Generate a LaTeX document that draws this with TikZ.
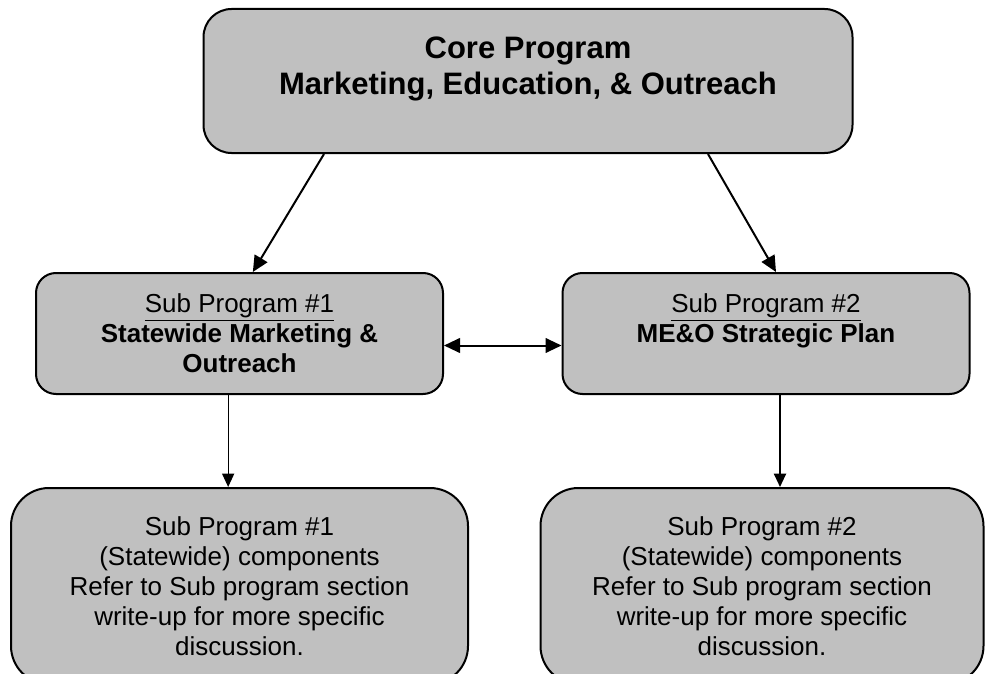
\documentclass[tikz,border=0pt]{standalone}
\usepackage{fontspec}
\setmainfont{Liberation Sans}
\usetikzlibrary{arrows.meta, positioning}
\definecolor{boxgray}{HTML}{C0C0C0}

\begin{document}
\begin{tikzpicture}[x=0.75pt, y=-0.75pt,
        box/.style={draw=black, line width=1.5pt, fill=boxgray, align=center, inner sep=0pt},
        core box/.style={box, rounded corners=21pt, minimum width=486.75pt, minimum height=108pt, font=\fontsize{23.25}{27}\selectfont\bfseries},
        sub box/.style={box, rounded corners=15pt, minimum width=305.25pt, minimum height=90.75pt, font=\fontsize{19.5}{22.5}\selectfont},
        detail box/.style={box, rounded corners=28.5pt, minimum height=147pt, font=\fontsize{19.5}{22.5}\selectfont},
        arrow/.style={-{Triangle[length=12pt, width=11pt]}, line width=1.5pt},
        thin arrow/.style={-{Triangle[length=10pt, width=9pt]}, line width=1pt}
    ]
        \useasboundingbox (0,0) rectangle (986,674);
        \clip (0,0) rectangle (986,674);

        \node[core box] (core) at (528,81) {Core Program\\Marketing, Education, \& Outreach\\[-4.5pt]};
        \node[sub box] (sub1) at (239.5,333.5) {\underline{Sub Program \#1}\\\textbf{Statewide Marketing \&}\\\textbf{Outreach}};
        \node[sub box] (sub2) at (766,333.5) {\underline{Sub Program \#2}\\\textbf{ME\&O Strategic Plan}\\\mbox{}};
        \node[detail box, minimum width=342.75pt] (detail1) at (239.5,586) {Sub Program \#1\\(Statewide) components\\Refer to Sub program section\\write-up for more specific\\discussion.};
        \node[detail box, minimum width=332.25pt] (detail2) at (762,586) {Sub Program \#2\\(Statewide) components\\Refer to Sub program section\\write-up for more specific\\discussion.};

        \draw[arrow] ([xshift=-153pt]core.south) -- ([xshift=10pt]sub1.north);
        \draw[arrow] ([xshift=135pt]core.south) -- ([xshift=7.5pt]sub2.north);
        \draw[{Triangle[length=12pt, width=11pt]}-{Triangle[length=12pt, width=11pt]}, line width=1.5pt] ([yshift=-9pt]sub1.east) -- ([yshift=-9pt]sub2.west);
        \draw[thin arrow] ([xshift=-8.5pt]sub1.south) -- ([xshift=-8.5pt]sub1.south |- detail1.north);
        \draw[arrow, -{Triangle[length=10pt, width=9pt]}] ([xshift=10.5pt]sub2.south) -- ([xshift=10.5pt]sub2.south |- detail2.north);
    \end{tikzpicture}
\end{document}
